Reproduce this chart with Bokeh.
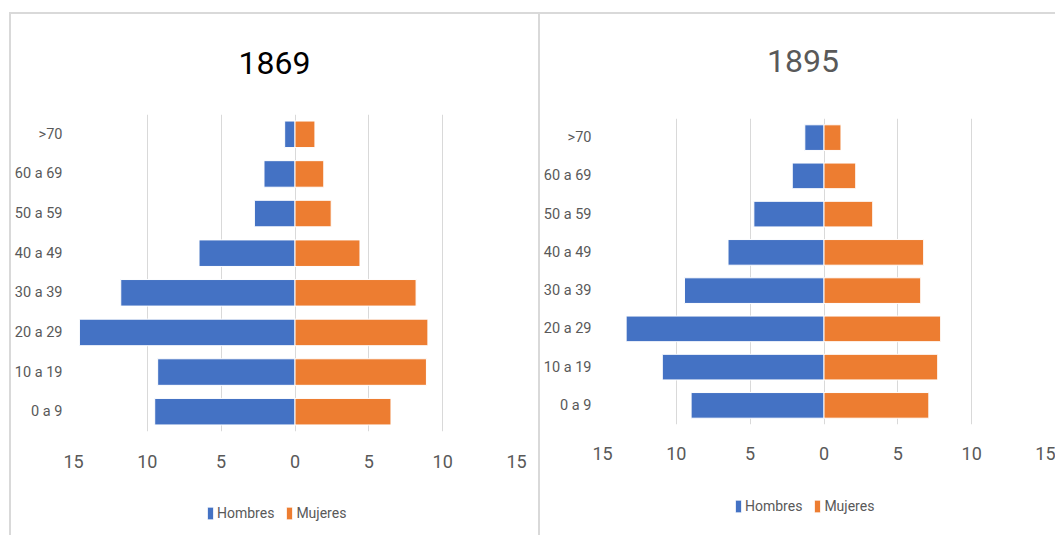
from bokeh.plotting import figure
from bokeh.layouts import row, column, Spacer
from bokeh.models import (ColumnDataSource, FactorRange, Range1d, FixedTicker,
                          Legend, LegendItem, Label)
from bokeh.embed import file_html
from bokeh.resources import INLINE

# ---- data ----
categories = ["0 a 9", "10 a 19", "20 a 29", "30 a 39", "40 a 49",
              "50 a 59", "60 a 69", ">70"]
hombres_1869 = [9.5, 9.3, 14.6, 11.8, 6.5, 2.75, 2.1, 0.7]
mujeres_1869 = [6.5, 8.9, 9.0, 8.2, 4.4, 2.45, 1.95, 1.35]
hombres_1895 = [9.0, 10.95, 13.4, 9.45, 6.5, 4.75, 2.15, 1.3]
mujeres_1895 = [7.1, 7.7, 7.9, 6.55, 6.75, 3.3, 2.15, 1.15]
tick_values = [-15, -10, -5, 0, 5, 10, 15]
tick_labels = ["15", "10", "5", "0", "5", "10", "15"]
series_names = ["Hombres", "Mujeres"]
titles = ["1869", "1895"]

FONT = "Roboto"
BLUE = "#4472C4"
ORANGE = "#ED7D31"
GRID = "#D9D9D9"
TEXT = "#595959"
BOX = "#D9D9D9"

W1, W2, H = 527, 515, 521
TITLE_H, CHART_H, LEG_H = 70, 401, 50


def make_source(hom, muj):
    return ColumnDataSource(dict(cat=categories,
                                 hl=[-v for v in hom], hr=[0] * len(hom),
                                 ml=[0] * len(muj), mr=list(muj)))


def bars(p, src, visible=True):
    r1 = p.hbar(y="cat", left="hl", right="hr", height=0.67, source=src,
                fill_color=BLUE, line_color="white", line_width=1,
                visible=visible)
    r2 = p.hbar(y="cat", left="ml", right="mr", height=0.67, source=src,
                fill_color=ORANGE, line_color="white", line_width=1,
                visible=visible)
    return r1, r2


def chart(src, W, bl, br, bt, bb, x_standoff):
    p = figure(width=W, height=CHART_H, y_range=FactorRange(factors=categories),
               x_range=Range1d(-15, 15), output_backend="svg", title=None,
               toolbar_location=None, min_border_left=bl, min_border_right=br,
               min_border_top=bt, min_border_bottom=bb)
    p.outline_line_color = None
    p.background_fill_color = "white"
    p.border_fill_color = "white"
    bars(p, src)
    tk = FixedTicker(ticks=tick_values)
    p.xaxis.ticker = tk
    p.xgrid.ticker = tk
    p.xaxis.major_label_overrides = dict(zip(tick_values, tick_labels))
    for ax in (p.xaxis, p.yaxis):
        ax.axis_line_color = None
        ax.major_tick_line_color = None
        ax.minor_tick_line_color = None
        ax.major_tick_out = 0
        ax.major_tick_in = 0
        ax.major_label_text_font = FONT
        ax.major_label_text_color = TEXT
    p.xaxis.major_label_text_font_size = "18px"
    p.xaxis.major_label_standoff = x_standoff
    p.yaxis.major_label_text_font_size = "14.5px"
    p.yaxis.major_label_standoff = 11
    p.xgrid.grid_line_color = GRID
    p.xgrid.grid_line_width = 1
    p.ygrid.grid_line_color = None
    return p


def blank(W, h, y_range, bl, br):
    p = figure(width=W, height=h, x_range=Range1d(0, 1), y_range=y_range,
               output_backend="svg", toolbar_location=None, title=None,
               x_axis_type=None, y_axis_type=None, min_border=0,
               min_border_left=bl, min_border_right=br)
    p.outline_line_color = None
    p.background_fill_color = "white"
    p.border_fill_color = "white"
    return p


def title_fig(text, color, W, bl, br, sx, cy_from_top):
    p = blank(W, TITLE_H, Range1d(0, TITLE_H), bl, br)
    p.add_layout(Label(x=sx, y=TITLE_H - cy_from_top, x_units="screen",
                       y_units="data", text=text,
                       text_font=FONT, text_font_size="32px",
                       text_color=color, text_align="center",
                       text_baseline="middle"))
    return p


def legend_fig(src, W, bl, br, vx, vy):
    p = blank(W, LEG_H, FactorRange(factors=categories), bl, br)
    r1, r2 = bars(p, src, visible=False)
    legend = Legend(items=[LegendItem(label=series_names[0], renderers=[r1]),
                           LegendItem(label=series_names[1], renderers=[r2])],
                    orientation="horizontal", location=(vx, vy),
                    glyph_width=8, glyph_height=16, label_height=16,
                    label_standoff=3, spacing=11, padding=0, margin=0,
                    border_line_color=None, background_fill_alpha=0,
                    label_text_font=FONT, label_text_font_size="14px",
                    label_text_color=TEXT, click_policy="none")
    p.add_layout(legend)
    return p


s1 = make_source(hombres_1869, mujeres_1869)
s2 = make_source(hombres_1895, mujeres_1895)

BL1, BR1 = 59, 22
BL2, BR2 = 60, 10

left = column(
    Spacer(width=W1, height=2, styles={"background-color": BOX}),
    title_fig(titles[0], "black", W1, BL1, BR1, 201, 48),
    chart(s1, W1, BL1, BR1, 30, 54, 23),
    legend_fig(s1, W1, BL1, BR1, 133, 14.4),
)
right = column(
    Spacer(width=W2, height=2, styles={"background-color": BOX}),
    title_fig(titles[1], TEXT, W2, BL2, BR2, 200.5, 46.8),
    chart(s2, W2, BL2, BR2, 34, 61, 22),
    legend_fig(s2, W2, BL2, BR2, 132, 20.8),
)


def vline():
    return Spacer(width=2, height=H + 2, styles={"background-color": BOX})


layout = column(
    Spacer(width=1055, height=12),
    row(Spacer(width=9, height=H + 2), vline(), left, vline(), right),
)
open("out.html", "w").write(file_html(layout, INLINE))
